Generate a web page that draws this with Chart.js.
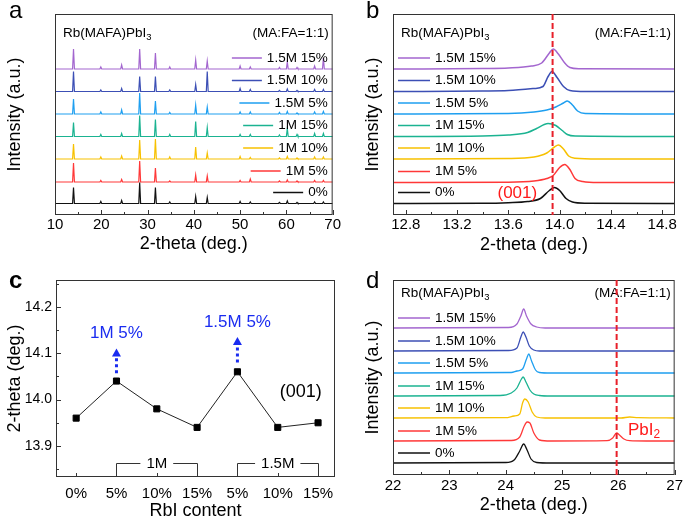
<!DOCTYPE html>
<html>
<head>
<meta charset="utf-8">
<script src="https://cdn.jsdelivr.net/npm/chart.js@4.4.0/dist/chart.umd.min.js"></script>
<style>
  body { margin: 0; background: #fff; }
  #wrap { position: relative; width: 685px; height: 520px; overflow: hidden; font-family: 'Liberation Sans', Arial, sans-serif; }
  canvas { position: absolute; }
  .lbl { position: absolute; font-size: 24px; line-height: 24px; color: #000; }
</style>
</head>
<body>
<div id="wrap">
  <canvas id="chartA" width="342" height="260" style="left:0;top:0"></canvas>
  <canvas id="chartB" width="343" height="260" style="left:342px;top:0"></canvas>
  <canvas id="chartC" width="342" height="260" style="left:0;top:260px"></canvas>
  <canvas id="chartD" width="343" height="260" style="left:342px;top:260px"></canvas>
  <div class="lbl" style="left:9px;top:-2px">a</div>
  <div class="lbl" style="left:366px;top:-2px">b</div>
  <div class="lbl" style="left:9px;top:268px;font-weight:bold">c</div>
  <div class="lbl" style="left:366px;top:268px">d</div>
</div>
<script>
// ---- dados ----
const nomes = ['0%', '1M 5%', '1M 10%', '1M 15%', '1.5M 5%', '1.5M 10%', '1.5M 15%'];
const cores = ['#111111', '#ff3838', '#f7c100', '#1bb391', '#1e9ff0', '#3c4fb5', '#a366cf'];

// painel a: posicoes dos picos e alturas (a.u.) por amostra
const picosA = [14.0, 19.9, 24.4, 28.3, 31.7, 34.8, 40.4, 42.9, 50.0, 52.2, 58.5, 60.2, 62.3, 66.1, 68.0];
const alturasA = [
  [16, 2, 3, 21, 16, 1.5, 7, 6, 2, 1.5, 1, 2.5, 1, 1.5, 1.5],
  [19, 1.5, 2.5, 21, 14, 1, 7, 6, 1.5, 3, 1, 2, 1, 1.5, 1.5],
  [15, 2, 3, 19, 20, 2, 12, 6, 2.5, 1.5, 1, 2.5, 1, 2, 2],
  [14, 2, 3, 21, 17, 2, 15, 9, 2, 2, 1.5, 8, 2, 3, 3],
  [15, 2, 4, 21, 13, 1.5, 9, 7, 2, 2, 1.5, 2.5, 1, 2, 2.5],
  [20, 1.5, 3, 15, 15, 1.5, 7, 20, 3, 2, 1, 2.5, 1, 2, 2],
  [20, 2, 4, 20, 16, 2, 9, 8, 3, 2, 1.5, 7, 1.5, 3, 11]
];
const offsetsA = [11.5, 33, 56, 78.5, 101, 123.5, 146];
const ticksA = [10, 20, 30, 40, 50, 60, 70];

// painel b: pico (001), [2theta, intensidade]
const curvasB = [
  [[12.7,0],[13.4,0.2],[13.6,0.8],[13.75,2],[13.85,5],[13.92,13],[13.96,16],[14.0,13],[14.05,5],[14.1,1.5],[14.2,0.3],[14.9,0]],
  [[12.7,0],[13.6,0.3],[13.8,1.5],[13.9,4],[13.95,7],[14.0,15],[14.04,18],[14.08,13],[14.12,4],[14.18,1],[14.3,0],[14.9,0]],
  [[12.7,0],[13.6,0.5],[13.8,2],[13.9,6],[13.96,12],[13.99,14],[14.03,10],[14.07,3],[14.12,0.8],[14.3,0],[14.9,0]],
  [[12.7,0],[13.4,0.5],[13.6,1.5],[13.75,4],[13.82,8],[13.88,12],[13.91,13],[13.97,11],[14.02,6],[14.06,2],[14.12,0.5],[14.9,0]],
  [[12.7,0],[13.6,0.5],[13.8,2],[13.9,4],[13.97,7],[14.03,11],[14.06,13],[14.1,9],[14.14,3],[14.2,0.5],[14.9,0]],
  [[12.7,0],[13.4,0.5],[13.6,1],[13.8,3],[13.87,5],[13.91,15],[13.94,20],[13.98,14],[14.03,5],[14.08,1],[14.2,0],[14.9,0]],
  [[12.7,0],[13.4,0.5],[13.6,1],[13.78,3],[13.86,6],[13.92,16],[13.95,20],[13.99,15],[14.04,6],[14.08,1.5],[14.15,0.3],[14.9,0]]
];
const offsetsB = [11.5, 32.5, 56, 78.5, 101, 123.5, 146];
const ticksB = [12.8, 13.2, 13.6, 14.0, 14.4, 14.8];

// painel c: posicao do pico (001) x teor de RbI
const rotulosC = ['0%', '5%', '10%', '15%', '5%', '10%', '15%'];
const valoresC = [13.96, 14.04, 13.98, 13.94, 14.06, 13.94, 13.95];
const ticksC = [13.9, 14.0, 14.1, 14.2];

// painel d: regiao 22-27 graus com PbI2
const curvasD = [
  [[22,0],[24.0,0.5],[24.15,3],[24.25,12],[24.32,19],[24.38,13],[24.45,4],[24.55,0.5],[24.8,0],[27,0]],
  [[22,0],[24.1,0.5],[24.25,4],[24.33,15],[24.38,19],[24.43,18],[24.5,8],[24.6,1],[24.8,0],[25.8,0.3],[25.9,3],[25.97,8],[26.02,6],[26.1,2],[26.2,0.3],[26.5,0],[27,0]],
  [[22,0],[24.0,0.3],[24.15,2],[24.25,4],[24.3,15],[24.34,19],[24.4,16],[24.47,6],[24.55,1],[24.7,0],[26.05,0],[26.2,1],[26.35,0.3],[27,0]],
  [[22,0],[23.9,0.5],[24.1,3],[24.2,8],[24.28,17],[24.31,19],[24.36,14],[24.43,6],[24.5,2],[24.6,0.5],[24.8,0],[27,0]],
  [[22,0],[24.1,0.5],[24.2,2],[24.3,4],[24.37,14],[24.41,19],[24.46,12],[24.53,3],[24.6,0.5],[24.8,0],[27,0]],
  [[22,0],[24.05,0.5],[24.2,3],[24.27,14],[24.31,19],[24.36,14],[24.42,5],[24.5,1],[24.6,0],[27,0]],
  [[22,0],[24.05,0.5],[24.2,4],[24.27,12],[24.32,19],[24.37,12],[24.45,4],[24.55,1],[24.7,0],[27,0]]
];
const offsetsD = [12, 34, 57, 79, 102, 124, 147];
const ticksD = [22, 23, 24, 25, 26, 27];

const FONTE = "'Liberation Sans', Arial, sans-serif";

// ---- helpers ----
function montarA(i) {
  const base = offsetsA[i];
  const pts = [{ x: 10, y: base }];
  picosA.forEach((p, k) => {
    pts.push({ x: p - 0.2, y: base }, { x: p, y: base + alturasA[i][k] }, { x: p + 0.2, y: base });
  });
  pts.push({ x: 70, y: base });
  return pts;
}

function deslocar(curva, base) {
  return curva.map(([x, y]) => ({ x: x, y: y + base }));
}

function desenharMoldura(chart, maiores, passoMenor) {
  const { ctx, chartArea: a, scales: { x } } = chart;
  ctx.save();
  ctx.strokeStyle = '#333';
  ctx.lineWidth = 1;
  ctx.strokeRect(a.left + 0.5, a.top + 0.5, a.width - 1, a.height - 1);
  ctx.beginPath();
  maiores.forEach(v => {
    if (v >= x.min) {
      const px = Math.round(x.getPixelForValue(v)) + 0.5;
      ctx.moveTo(px, a.bottom); ctx.lineTo(px, a.bottom - 5);
    }
    const m = v + passoMenor;
    if (m < x.max && m > x.min) {
      const pm = Math.round(x.getPixelForValue(m)) + 0.5;
      ctx.moveTo(pm, a.bottom); ctx.lineTo(pm, a.bottom - 3);
    }
  });
  ctx.stroke();
  ctx.restore();
}

function textoSub(ctx, base, sub, x, y, tam, alinhar) {
  ctx.font = tam + 'px ' + FONTE;
  const w1 = ctx.measureText(base).width;
  ctx.font = (tam * 0.7) + 'px ' + FONTE;
  const w2 = ctx.measureText(sub).width;
  const x0 = alinhar === 'right' ? x - w1 - w2 : x;
  ctx.textAlign = 'left';
  ctx.textBaseline = 'middle';
  ctx.font = tam + 'px ' + FONTE;
  ctx.fillText(base, x0, y);
  ctx.font = (tam * 0.7) + 'px ' + FONTE;
  ctx.fillText(sub, x0 + w1, y + tam * 0.3);
}

function legendaEspectros(chart, offsets, subir, alinhar) {
  const { ctx, chartArea: a, scales: { y } } = chart;
  ctx.save();
  ctx.font = '13.5px ' + FONTE;
  ctx.textBaseline = 'middle';
  offsets.forEach((base, i) => {
    const py = y.getPixelForValue(base + subir);
    let xl0, xl1, xt;
    if (alinhar === 'right') {
      const w = ctx.measureText(nomes[i]).width;
      xt = a.right - 5 - w;
      xl1 = xt - 5; xl0 = xl1 - 30;
    } else {
      xl0 = a.left + 5; xl1 = xl0 + 32; xt = xl1 + 5;
    }
    ctx.strokeStyle = cores[i];
    ctx.lineWidth = 1.5;
    ctx.beginPath(); ctx.moveTo(xl0, py); ctx.lineTo(xl1, py); ctx.stroke();
    ctx.fillStyle = '#000';
    ctx.textAlign = 'left';
    ctx.fillText(nomes[i], xt, py);
  });
  ctx.restore();
}

function cabecalho(chart, dy) {
  const { ctx, chartArea: a } = chart;
  ctx.save();
  ctx.fillStyle = '#000';
  textoSub(ctx, 'Rb(MAFA)PbI', '3', a.left + 8, a.top + dy, 13.5, 'left');
  ctx.font = '13.5px ' + FONTE;
  ctx.textAlign = 'right';
  ctx.textBaseline = 'middle';
  ctx.fillText('(MA:FA=1:1)', a.right - 4, a.top + dy);
  ctx.restore();
}

function linhaTracejada(chart, valor) {
  const { ctx, chartArea: a, scales: { x } } = chart;
  const px = x.getPixelForValue(valor);
  ctx.save();
  ctx.strokeStyle = '#e8202a';
  ctx.lineWidth = 2;
  ctx.setLineDash([6, 3]);
  ctx.beginPath(); ctx.moveTo(px, a.top); ctx.lineTo(px, a.bottom); ctx.stroke();
  ctx.restore();
}

function eixoX(min, max, ticks, fmt, padTick, padTitulo) {
  return {
    type: 'linear', min: min, max: max,
    grid: { display: false, drawTicks: false }, border: { display: false },
    afterBuildTicks: s => { s.ticks = ticks.map(v => ({ value: v })); },
    ticks: { color: '#000', font: { family: FONTE, size: 15 }, padding: padTick, maxRotation: 0, autoSkip: false, callback: fmt },
    title: { display: true, text: '2-theta (deg.)', color: '#000', font: { family: FONTE, size: 18 }, padding: { top: 0, bottom: padTitulo } },
    afterFit: s => { s.height = 45; }
  };
}

function eixoYIntensidade(max, largura, padTitulo) {
  return {
    type: 'linear', min: 0, max: max,
    grid: { display: false, drawTicks: false }, border: { display: false },
    ticks: { display: false },
    title: { display: true, text: 'Intensity (a.u.)', color: '#000', font: { family: FONTE, size: 18 }, padding: { top: padTitulo, bottom: 0 } },
    afterFit: s => { s.width = largura; }
  };
}

function dsEspectros(series, lw, suave) {
  return series.map((pts, i) => ({
    data: pts, borderColor: cores[i], borderWidth: lw, pointRadius: 0,
    fill: false, tension: 0, cubicInterpolationMode: suave ? 'monotone' : 'default'
  }));
}

// ---- painel a ----
new Chart(document.getElementById('chartA'), {
  type: 'line',
  data: { datasets: dsEspectros(offsetsA.map((_, i) => montarA(i)), 1.2, false) },
  options: {
    responsive: false, animation: false,
    layout: { padding: { top: 14, right: 4, left: 0, bottom: 0 } },
    plugins: { legend: { display: false }, tooltip: { enabled: false } },
    scales: {
      x: eixoX(10, 70, ticksA, v => String(v), 1, 5),
      y: eixoYIntensidade(201, 55, 4)
    }
  },
  plugins: [{
    id: 'extrasA',
    afterDraw(chart) {
      desenharMoldura(chart, ticksA, 5);
      cabecalho(chart, 19);
      legendaEspectros(chart, offsetsA, 11, 'right');
    }
  }]
});

// ---- painel b ----
new Chart(document.getElementById('chartB'), {
  type: 'line',
  data: { datasets: dsEspectros(curvasB.map((c, i) => deslocar(c, offsetsB[i])), 1.5, true) },
  options: {
    responsive: false, animation: false,
    layout: { padding: { top: 14, right: 10, left: 16, bottom: 0 } },
    plugins: { legend: { display: false }, tooltip: { enabled: false } },
    scales: {
      x: eixoX(12.7, 14.9, ticksB, v => v.toFixed(1), 1, 4),
      y: eixoYIntensidade(201, 35, 4)
    }
  },
  plugins: [{
    id: 'extrasB',
    afterDraw(chart) {
      desenharMoldura(chart, [12.6].concat(ticksB), 0.2);
      cabecalho(chart, 19);
      legendaEspectros(chart, offsetsB, 11, 'left');
      linhaTracejada(chart, 13.945);
      const { ctx, scales: { x, y } } = chart;
      ctx.save();
      ctx.fillStyle = '#ff1a1a';
      ctx.font = '17px ' + FONTE;
      ctx.textAlign = 'center';
      ctx.textBaseline = 'middle';
      ctx.fillText('(001)', x.getPixelForValue(13.67), y.getPixelForValue(22));
      ctx.restore();
    }
  }]
});

// ---- painel c ----
const colchetesC = [
  { de: 1, ate: 3, meio: 2, texto: '1M' },
  { de: 4, ate: 6, meio: 5, texto: '1.5M' }
];
const setasC = [
  { idx: 1, y0: 14.057, y1: 14.11, texto: '1M 5%', yt: 14.144 },
  { idx: 4, y0: 14.08, y1: 14.135, texto: '1.5M 5%', yt: 14.166 }
];

new Chart(document.getElementById('chartC'), {
  type: 'line',
  data: {
    datasets: [{
      data: valoresC.map((v, i) => ({ x: i, y: v })),
      borderColor: '#222', borderWidth: 1, pointStyle: 'rect', pointRadius: 4.3,
      pointBackgroundColor: '#000', pointBorderColor: '#000', tension: 0
    }]
  },
  options: {
    responsive: false, animation: false,
    layout: { padding: { top: 20, right: 7, left: 0, bottom: 0 } },
    plugins: { legend: { display: false }, tooltip: { enabled: false } },
    scales: {
      x: {
        type: 'linear', min: -0.5, max: 6.42,
        grid: { display: false, drawTicks: false }, border: { display: false },
        afterBuildTicks: s => { s.ticks = rotulosC.map((_, i) => ({ value: i })); },
        ticks: { color: '#000', font: { family: FONTE, size: 15 }, padding: 8, maxRotation: 0, autoSkip: false, callback: v => rotulosC[v] },
        title: { display: true, text: 'RbI content', color: '#000', font: { family: FONTE, size: 18, lineHeight: 1 }, padding: { top: 0, bottom: 0 } },
        afterFit: s => { s.height = 43; }
      },
      y: {
        type: 'linear', min: 13.833, max: 14.258,
        grid: { display: false, drawTicks: false }, border: { display: false },
        afterBuildTicks: s => { s.ticks = ticksC.map(v => ({ value: v })); },
        ticks: { color: '#000', font: { family: FONTE, size: 14 }, padding: 4, callback: v => v.toFixed(1) },
        title: { display: true, text: '2-theta (deg.)', color: '#000', font: { family: FONTE, size: 18, lineHeight: 1 }, padding: { top: 6, bottom: 0 } },
        afterFit: s => { s.width = 56; }
      }
    }
  },
  plugins: [{
    id: 'extrasC',
    afterDraw(chart) {
      const { ctx, chartArea: a, scales: { x, y } } = chart;
      ctx.save();
      ctx.strokeStyle = '#333';
      ctx.lineWidth = 1;
      ctx.strokeRect(a.left + 0.5, a.top + 0.5, a.width - 1, a.height - 1);
      ctx.beginPath();
      rotulosC.forEach((_, i) => {
        const px = Math.round(x.getPixelForValue(i)) + 0.5;
        ctx.moveTo(px, a.bottom); ctx.lineTo(px, a.bottom - 4);
      });
      [13.85, 13.9, 13.95, 14.0, 14.05, 14.1, 14.15, 14.2, 14.25].forEach(v => {
        const py = Math.round(y.getPixelForValue(v)) + 0.5;
        const maior = ticksC.some(t => Math.abs(t - v) < 1e-6);
        ctx.moveTo(a.left, py); ctx.lineTo(a.left + (maior ? 5 : 3), py);
      });
      ctx.stroke();

      // colchetes 1M / 1.5M
      ctx.font = '15px ' + FONTE;
      ctx.fillStyle = '#000';
      ctx.textAlign = 'center';
      ctx.textBaseline = 'middle';
      colchetesC.forEach(c => {
        const yc = Math.round(y.getPixelForValue(13.863)) + 0.5;
        const x0 = Math.round(x.getPixelForValue(c.de)) + 0.5;
        const x1 = Math.round(x.getPixelForValue(c.ate)) + 0.5;
        const xm = x.getPixelForValue(c.meio);
        const meia = ctx.measureText(c.texto).width / 2 + 6;
        ctx.beginPath();
        ctx.moveTo(x0, a.bottom); ctx.lineTo(x0, yc); ctx.lineTo(xm - meia, yc);
        ctx.moveTo(xm + meia, yc); ctx.lineTo(x1, yc); ctx.lineTo(x1, a.bottom);
        ctx.stroke();
        ctx.fillText(c.texto, xm, yc);
      });

      // setas azuis pontilhadas
      setasC.forEach(s => {
        const px = x.getPixelForValue(s.idx);
        const p0 = y.getPixelForValue(s.y0);
        const p1 = y.getPixelForValue(s.y1);
        ctx.strokeStyle = '#1a2cf0';
        ctx.fillStyle = '#1a2cf0';
        ctx.lineWidth = 3;
        ctx.setLineDash([3, 3]);
        ctx.beginPath(); ctx.moveTo(px, p0); ctx.lineTo(px, p1 + 6); ctx.stroke();
        ctx.setLineDash([]);
        ctx.beginPath();
        ctx.moveTo(px, p1); ctx.lineTo(px - 4.5, p1 + 8); ctx.lineTo(px + 4.5, p1 + 8); ctx.closePath();
        ctx.fill();
        ctx.font = '17px ' + FONTE;
        ctx.fillText(s.texto, px, y.getPixelForValue(s.yt));
      });

      ctx.fillStyle = '#000';
      ctx.font = '18px ' + FONTE;
      ctx.fillText('(001)', x.getPixelForValue(5.57), y.getPixelForValue(14.016));
      ctx.restore();
    }
  }]
});

// ---- painel d ----
new Chart(document.getElementById('chartD'), {
  type: 'line',
  data: { datasets: dsEspectros(curvasD.map((c, i) => deslocar(c, offsetsD[i])), 1.3, true) },
  options: {
    responsive: false, animation: false,
    layout: { padding: { top: 20, right: 10, left: 16, bottom: 0 } },
    plugins: { legend: { display: false }, tooltip: { enabled: false } },
    scales: {
      x: eixoX(22, 27, ticksD, v => String(v), 2, 4),
      y: eixoYIntensidade(195, 35, 4)
    }
  },
  plugins: [{
    id: 'extrasD',
    afterDraw(chart) {
      desenharMoldura(chart, ticksD, 0.5);
      cabecalho(chart, 13);
      legendaEspectros(chart, offsetsD, 10, 'left');
      linhaTracejada(chart, 25.97);
      const { ctx, scales: { x, y } } = chart;
      ctx.save();
      ctx.fillStyle = '#ff1a1a';
      textoSub(ctx, 'PbI', '2', x.getPixelForValue(26.17), y.getPixelForValue(45), 17, 'left');
      ctx.restore();
    }
  }]
});
</script>
</body>
</html>
